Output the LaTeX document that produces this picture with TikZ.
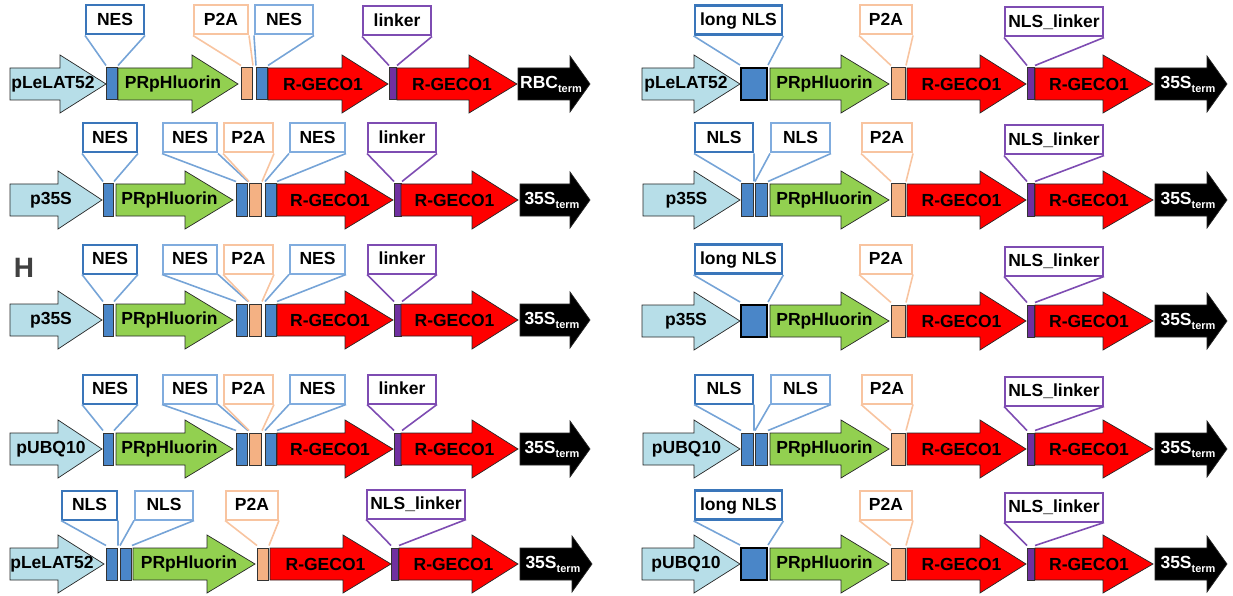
\documentclass[tikz,border=0pt]{standalone}
\usepackage{fontspec}
\setmainfont{Liberation Sans}
\definecolor{promoC}{RGB}{183,222,232}
\definecolor{gfpC}{RGB}{146,208,80}
\definecolor{nesC}{RGB}{74,134,200}
\definecolor{p2aC}{RGB}{244,177,131}
\definecolor{lkC}{RGB}{112,48,160}
\definecolor{boxA}{RGB}{58,118,186}
\definecolor{boxB}{RGB}{128,172,222}
\definecolor{lineB}{RGB}{118,164,215}
\definecolor{p2aL}{RGB}{248,196,160}
\definecolor{lkL}{RGB}{126,76,178}
\newcommand{\trm}{\raisebox{-4pt}{\fontsize{11}{12}\selectfont term}}
\begin{document}
\begin{tikzpicture}[x=1pt, y=-1pt,
  every node/.style={font=\fontsize{17.5}{19}\selectfont\bfseries},
  garrow/.style={draw=black!85, line width=0.7pt},
  pics/gene/.style n args={4}{code={
    \draw[garrow, fill=#3] (0,-16) -- ({#1-#2},-16) -- ({#1-#2},-29) -- (#1,0)
      -- ({#1-#2},29) -- ({#1-#2},16) -- (0,16) -- cycle;
    \node (-t) at ({#1/2-5},0) {#4};
  }},
  pics/term/.style n args={2}{code={
    \draw[garrow, fill=black] (0,-16) -- ({#1-20},-16) -- ({#1-20},-28) -- (#1,0)
      -- ({#1-20},28) -- ({#1-20},16) -- (0,16) -- cycle;
    \node[text=white] (-t) at ({#1/2-3},0) {#2};
  }},
  blk/.style={draw=black!80, line width=1pt, anchor=west, minimum height=32pt, inner sep=0pt},
  nesblk/.style={blk, fill=nesC},
  p2ablk/.style={blk, fill=p2aC},
  lkblk/.style={blk, fill=lkC},
  lnlsblk/.style={blk, fill=nesC, draw=black, line width=2pt},
  lbox/.style={draw, fill=white, line width=2pt, minimum height=29pt, inner sep=0pt,
    text height=12pt, text depth=0.5pt},
  nesboxA/.style={lbox, draw=boxA},
  nesboxB/.style={lbox, draw=boxB},
  p2abox/.style={lbox, draw=p2aL},
  lkbox/.style={lbox, draw=lkL},
  lnlsbox/.style={lbox, draw=boxA, line width=2.8pt},
  nesln/.style={draw=lineB, line width=1.6pt},
  p2aln/.style={draw=p2aL, line width=1.6pt},
  lkln/.style={draw=lkL, line width=1.6pt}]
\useasboundingbox (0,0) rectangle (1233,596);

\node[font=\fontsize{28}{28}\selectfont\bfseries, text=black!75] (H) at (24,268) {H};

% left column, row 1
\pic (pr1) at (10,84) {gene={96}{46}{promoC}{pLeLAT52}};
\node[nesblk, minimum width=11] (nesa1) at (106,84) {};
\pic (gf1) at (118,84) {gene={120}{46}{gfpC}{PRpHluorin}};
\node[p2ablk, minimum width=11] (p2a1) at (241,84) {};
\node[nesblk, minimum width=11] (nesc1) at (256,84) {};
\pic (gea1) at (268,84) {gene={120}{46}{red}{R-GECO1}};
\node[lkblk, minimum width=7] (lk1) at (389,84) {};
\pic (geb1) at (397,84) {gene={120}{48}{red}{R-GECO1}};
\pic (tm1) at (518,84) {term={72}{RBC\trm}};
\node[nesboxA, minimum width=58] (Lnesa1) at (115,20) {NES};
\node[p2abox, minimum width=54] (Lp2a1) at (221,20) {P2A};
\node[nesboxB, minimum width=58] (Lnesc1) at (284,20) {NES};
\node[lkbox, minimum width=68] (Llk1) at (397,21) {linker};
\foreach \a in {nesa,nesc}
  \draw[nesln] (L\a1.south west) -- ([yshift=2pt]\a1.north west)
    (L\a1.south east) -- ([yshift=2pt]\a1.north east);
\draw[p2aln] (Lp2a1.south west) -- ([yshift=2pt]p2a1.north west)
  (Lp2a1.south east) -- ([yshift=2pt]p2a1.north east);
\draw[lkln] (Llk1.south west) -- ([yshift=2pt]lk1.north west)
  (Llk1.south east) -- ([yshift=2pt]lk1.north east);

% left column, rows 2-4
\foreach \i/\y/\ly/\pname in {2/200/138/p35S, 3/320/259/p35S, 4/449/389/pUBQ10}{
  \pic (pr\i) at (10,\y) {gene={92}{44}{promoC}{\pname}};
  \node[nesblk, minimum width=10] (nesa\i) at (103,\y) {};
  \pic (gf\i) at (116,\y) {gene={117}{48}{gfpC}{PRpHluorin}};
  \node[nesblk, minimum width=11] (nesb\i) at (236,\y) {};
  \node[p2ablk, minimum width=12] (p2a\i) at (249,\y) {};
  \node[nesblk, minimum width=11] (nesc\i) at (265,\y) {};
  \pic (gea\i) at (277,\y) {gene={116}{48}{red}{R-GECO1}};
  \node[lkblk, minimum width=7] (lk\i) at (394,\y) {};
  \pic (geb\i) at (401,\y) {gene={117}{46}{red}{R-GECO1}};
  \pic (tm\i) at (520,\y) {term={70}{35S\trm}};
  \node[nesboxA, minimum width=54] (Lnesa\i) at (110,\ly) {NES};
  \node[nesboxB, minimum width=54] (Lnesb\i) at (190,\ly) {NES};
  \node[p2abox, minimum width=49] (Lp2a\i) at (248.5,\ly) {P2A};
  \node[nesboxB, minimum width=55] (Lnesc\i) at (317.5,\ly) {NES};
  \node[lkbox, minimum width=68] (Llk\i) at (402,\ly) {linker};
  \foreach \a in {nesa,nesb,nesc}
    \draw[nesln] (L\a\i.south west) -- ([yshift=2pt]\a\i.north west)
      (L\a\i.south east) -- ([yshift=2pt]\a\i.north east);
  \draw[p2aln] (Lp2a\i.south west) -- ([yshift=2pt]p2a\i.north west)
    (Lp2a\i.south east) -- ([yshift=2pt]p2a\i.north east);
  \draw[lkln] (Llk\i.south west) -- ([yshift=2pt]lk\i.north west)
    (Llk\i.south east) -- ([yshift=2pt]lk\i.north east);
}

% left column, row 5
\pic (pr5) at (10,564) {gene={94}{46}{promoC}{pLeLAT52}};
\node[nesblk, minimum width=11] (nlsa5) at (106,564) {};
\node[nesblk, minimum width=11] (nlsb5) at (120,564) {};
\pic (gf5) at (133,564) {gene={122}{48}{gfpC}{PRpHluorin}};
\node[p2ablk, minimum width=11] (p2a5) at (257,564) {};
\pic (gea5) at (270,564) {gene={121}{48}{red}{R-GECO1}};
\node[lkblk, minimum width=7] (lk5) at (391,564) {};
\pic (geb5) at (399,564) {gene={119}{46}{red}{R-GECO1}};
\pic (tm5) at (520,564) {term={72}{35S\trm}};
\node[nesboxA, minimum width=55] (Lnlsa5) at (89.5,505) {NLS};
\node[nesboxB, minimum width=58] (Lnlsb5) at (164,505) {NLS};
\node[p2abox, minimum width=52] (Lp2a5) at (252,505) {P2A};
\node[lkbox, minimum width=98] (Llk5) at (416,504) {NLS\_linker};
\foreach \a in {nlsa,nlsb}
  \draw[nesln] (L\a5.south west) -- ([yshift=2pt]\a5.north west)
    (L\a5.south east) -- ([yshift=2pt]\a5.north east);
\draw[p2aln] (Lp2a5.south west) -- ([yshift=2pt]p2a5.north west)
  (Lp2a5.south east) -- ([yshift=2pt]p2a5.north east);
\draw[lkln] (Llk5.south west) -- ([yshift=2pt]lk5.north west)
  (Llk5.south east) -- ([yshift=2pt]lk5.north east);

% right column, long NLS rows
\foreach \i/\y/\ly/\pname in {1/84/20/pLeLAT52, 3/321/259/p35S, 5/564/505/pUBQ10}{
  \pic (Rpr\i) at (642,\y) {gene={98}{46}{promoC}{\pname}};
  \node[lnlsblk, minimum width=26] (Rln\i) at (740,\y) {};
  \pic (Rgf\i) at (770,\y) {gene={119}{48}{gfpC}{PRpHluorin}};
  \node[p2ablk, minimum width=14] (Rp2a\i) at (891,\y) {};
  \pic (Rgea\i) at (907,\y) {gene={119}{46}{red}{R-GECO1}};
  \node[lkblk, minimum width=7] (Rlk\i) at (1027,\y) {};
  \pic (Rgeb\i) at (1035,\y) {gene={118}{50}{red}{R-GECO1}};
  \pic (Rtm\i) at (1155,\y) {term={72}{35S\trm}};
  \node[lnlsbox, minimum width=87] (RLln\i) at (738.5,\ly) {long NLS};
  \node[p2abox, minimum width=52] (RLp2a\i) at (886,\ly) {P2A};
  \node[lkbox, minimum width=98] (RLlk\i) at (1054,\ly+2) {NLS\_linker};
  \draw[nesln] (RLln\i.south west) -- ([yshift=2pt]Rln\i.north west)
    (RLln\i.south east) -- ([yshift=2pt]Rln\i.north east);
  \draw[p2aln] (RLp2a\i.south west) -- ([yshift=2pt]Rp2a\i.north west)
    (RLp2a\i.south east) -- ([yshift=2pt]Rp2a\i.north east);
  \draw[lkln] (RLlk\i.south west) -- ([yshift=2pt]Rlk\i.north west)
    (RLlk\i.south east) -- ([yshift=2pt]Rlk\i.north east);
}

% right column, NLS NLS rows
\foreach \i/\y/\ly/\pname in {2/200/138/p35S, 4/449/389/pUBQ10}{
  \pic (Rpr\i) at (643,\y) {gene={97}{46}{promoC}{\pname}};
  \node[nesblk, minimum width=12] (Rnlsa\i) at (741,\y) {};
  \node[nesblk, minimum width=12] (Rnlsb\i) at (755,\y) {};
  \pic (Rgf\i) at (770,\y) {gene={119}{48}{gfpC}{PRpHluorin}};
  \node[p2ablk, minimum width=14] (Rp2a\i) at (891,\y) {};
  \pic (Rgea\i) at (907,\y) {gene={119}{46}{red}{R-GECO1}};
  \node[lkblk, minimum width=7] (Rlk\i) at (1027,\y) {};
  \pic (Rgeb\i) at (1035,\y) {gene={118}{50}{red}{R-GECO1}};
  \pic (Rtm\i) at (1155,\y) {term={72}{35S\trm}};
  \node[nesboxA, minimum width=58] (RLnlsa\i) at (724,\ly) {NLS};
  \node[nesboxB, minimum width=59] (RLnlsb\i) at (800.5,\ly) {NLS};
  \node[p2abox, minimum width=50] (RLp2a\i) at (887,\ly) {P2A};
  \node[lkbox, minimum width=98] (RLlk\i) at (1054,\ly+2) {NLS\_linker};
  \foreach \a in {nlsa,nlsb}
    \draw[nesln] (RL\a\i.south west) -- ([yshift=2pt]R\a\i.north west)
      (RL\a\i.south east) -- ([yshift=2pt]R\a\i.north east);
  \draw[p2aln] (RLp2a\i.south west) -- ([yshift=2pt]Rp2a\i.north west)
    (RLp2a\i.south east) -- ([yshift=2pt]Rp2a\i.north east);
  \draw[lkln] (RLlk\i.south west) -- ([yshift=2pt]Rlk\i.north west)
    (RLlk\i.south east) -- ([yshift=2pt]Rlk\i.north east);
}
\end{tikzpicture}
\end{document}
